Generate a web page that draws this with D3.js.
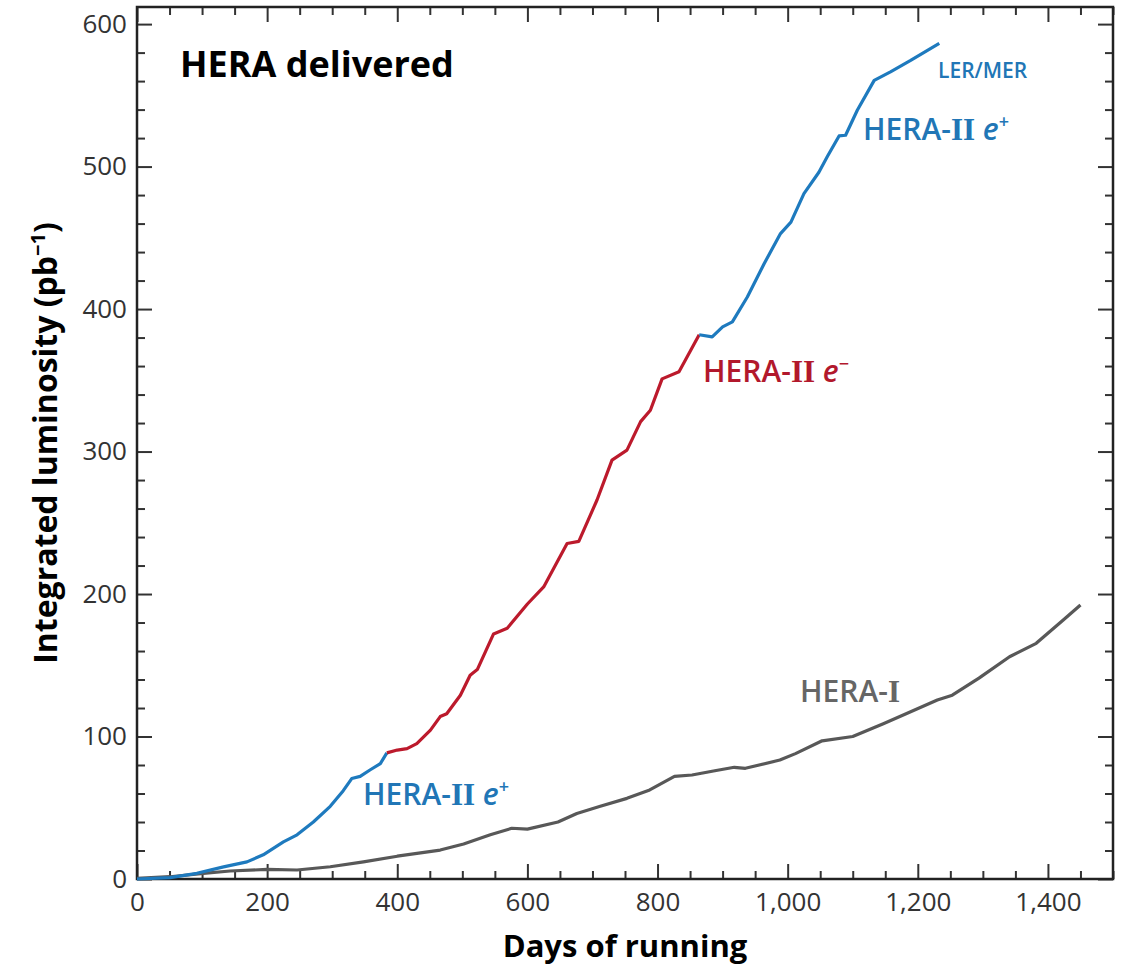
<!DOCTYPE html>
<html>
<head>
<meta charset="utf-8">
<script src="https://cdn.jsdelivr.net/npm/d3@7"></script>
<style>
  body { margin: 0; background: #fff; }
  text { font-family: 'Open Sans', 'Noto Sans', sans-serif; }
</style>
</head>
<body>
<div id="canvas"></div>
<script>
/*
 * Data (days, integrated luminosity in pb^-1)
 *
 */
const heraIDays = [0, 51, 102, 143, 200, 246, 297, 348, 400, 466, 502, 543, 576, 600, 647, 676, 712, 753, 788, 826, 853, 888, 918, 935, 988, 1012, 1053, 1100, 1147, 1182, 1230, 1253, 1294, 1341, 1382, 1424, 1450];
const heraILumi = [0.5, 1.6, 4, 5.6, 6.7, 6.3, 8.6, 12, 16, 20.3, 24.6, 31, 35.6, 35, 40, 46, 51, 56.6, 62.5, 72, 73, 76, 78.4, 77.7, 83.5, 88, 97, 100, 109, 116, 125.6, 129, 141, 156, 165.4, 182, 192.3];

const posFirstDays = [0, 51, 92, 133, 169, 194, 225, 246, 271, 297, 317, 330, 343, 358, 374, 384];
const posFirstLumi = [0, 1, 4, 8.5, 12, 17, 26, 31, 40, 51, 62, 70.5, 72, 76.5, 81, 88.5];

const elecDays = [384, 400, 415, 430, 451, 466, 476, 497, 512, 523, 548, 569, 600, 625, 661, 679, 707, 730, 753, 774, 789, 807, 833, 864];
const elecLumi = [88.5, 90.5, 91.5, 95, 104.5, 114, 116, 129, 143, 147, 172, 176, 193, 205, 235.5, 237, 266, 294, 301, 321, 329, 351, 356, 382];

const posSecondDays = [864, 884, 900, 915, 938, 964, 989, 1005, 1025, 1048, 1061, 1079, 1089, 1107, 1133, 1158, 1189, 1233];
const posSecondLumi = [382, 380.5, 387.5, 391, 408.5, 432, 453, 461, 481, 496, 507, 521.5, 522, 539.5, 560.5, 566.5, 574.5, 586.5];

const xTicks = [0, 200, 400, 600, 800, 1000, 1200, 1400];
const yTicks = [0, 100, 200, 300, 400, 500, 600];

const blue = 'rgb(30, 122, 190)',
  red = 'rgb(188, 26, 44)',
  grey = 'rgb(88, 88, 88)';

/*
 * Sizes
 *
 */
const svgWidth = 1122,
  svgHeight = 965;
const margin = { top: 7, left: 137, right: 9, bottom: 86 };
const width = svgWidth - margin.left - margin.right,
  height = svgHeight - margin.top - margin.bottom;

const svg = d3.select('#canvas').append('svg')
  .attr('width', svgWidth)
  .attr('height', svgHeight);

const g = svg.append('g')
  .attr('transform', `translate(${margin.left}, ${margin.top})`);

const xScale = d3.scaleLinear().domain([0, 1500]).range([0, width]);
const yScale = d3.scaleLinear().domain([0, 612]).range([height, 0]);

/*
 * Axes: ticks point inward on all four sides
 *
 */
const minorX = d3.range(0, 1501, 50).filter((d) => d % 200 !== 0);
const minorY = d3.range(0, 612, 20).filter((d) => d % 100 !== 0);

function styleAxis(sel) {
  sel.select('.domain').remove();
  sel.selectAll('line').attr('stroke', '#333').attr('stroke-width', 2);
  sel.selectAll('text')
    .attr('fill', '#333')
    .style('font-size', '26px');
}

g.append('g')
  .attr('transform', `translate(0,${height})`)
  .call(d3.axisBottom(xScale).tickValues(xTicks).tickSize(-15).tickPadding(14).tickFormat(d3.format(',')))
  .call(styleAxis);
g.append('g')
  .attr('transform', `translate(0,${height})`)
  .call(d3.axisBottom(xScale).tickValues(minorX).tickSize(-8).tickFormat(''))
  .call(styleAxis);
g.append('g')
  .call(d3.axisTop(xScale).tickValues(xTicks).tickSize(-15).tickFormat(''))
  .call(styleAxis);
g.append('g')
  .call(d3.axisTop(xScale).tickValues(minorX).tickSize(-8).tickFormat(''))
  .call(styleAxis);

g.append('g')
  .call(d3.axisLeft(yScale).tickValues(yTicks).tickSize(-15).tickPadding(10))
  .call(styleAxis);
g.append('g')
  .call(d3.axisLeft(yScale).tickValues(minorY).tickSize(-8).tickFormat(''))
  .call(styleAxis);
g.append('g')
  .attr('transform', `translate(${width},0)`)
  .call(d3.axisRight(yScale).tickValues(yTicks).tickSize(-15).tickFormat(''))
  .call(styleAxis);
g.append('g')
  .attr('transform', `translate(${width},0)`)
  .call(d3.axisRight(yScale).tickValues(minorY).tickSize(-8).tickFormat(''))
  .call(styleAxis);

// frame
g.append('rect')
  .attr('width', width)
  .attr('height', height)
  .attr('fill', 'none')
  .attr('stroke', '#222')
  .attr('stroke-width', 2.5);

/*
 * Axis titles
 *
 */
g.append('text')
  .attr('x', width / 2)
  .attr('y', height + 78)
  .attr('text-anchor', 'middle')
  .style('font-size', '31px')
  .style('font-weight', 'bold')
  .text('Days of running');

const yLabel = g.append('text')
  .attr('transform', `translate(${57 - margin.left},${height / 2}) rotate(-90)`)
  .attr('text-anchor', 'middle')
  .style('font-size', '32px')
  .style('font-weight', 'bold');
yLabel.append('tspan').text('Integrated luminosity (pb');
yLabel.append('tspan').text('\u22121').attr('dy', -12).style('font-size', '20px');
yLabel.append('tspan').text(')').attr('dy', 12);

g.append('text')
  .attr('x', 180 - margin.left)
  .attr('y', 77 - margin.top)
  .style('font-size', '36px')
  .style('font-weight', 'bold')
  .text('HERA delivered');

/*
 * Lines
 *
 */
const line = d3.line()
  .x((d) => xScale(d[0]))
  .y((d) => yScale(d[1]));

const series = [
  { days: heraIDays, lumi: heraILumi, color: grey },
  { days: posFirstDays, lumi: posFirstLumi, color: blue },
  { days: elecDays, lumi: elecLumi, color: red },
  { days: posSecondDays, lumi: posSecondLumi, color: blue }
];

g.selectAll('path.run')
  .data(series)
  .enter()
  .append('path')
  .attr('class', 'run')
  .attr('d', (s) => line(s.days.map((d, i) => [d, s.lumi[i]])))
  .attr('fill', 'none')
  .attr('stroke', (s) => s.color)
  .attr('stroke-width', 3.2)
  .attr('stroke-linejoin', 'round');

/*
 * Run labels
 *
 */
function runLabel(x, y, color, numeral, charge) {
  const t = g.append('text')
    .attr('x', x - margin.left)
    .attr('y', y - margin.top)
    .attr('fill', color)
    .style('font-size', '30px')
    .style('font-weight', 600);
  t.append('tspan').text('HERA-');
  t.append('tspan').text(numeral)
    .style('font-family', "'Liberation Serif', 'DejaVu Serif', serif")
    .style('font-weight', 'bold')
    .style('font-size', '31px');
  if (charge) {
    t.append('tspan').text(' e')
      .style('font-style', 'italic');
    t.append('tspan').text(charge)
      .attr('dy', -12)
      .style('font-size', '18px');
  }
  return t;
}

runLabel(363, 805, 'rgb(33, 118, 182)', 'II', '+');
runLabel(703, 382, 'rgb(178, 24, 44)', 'II', '\u2212');
runLabel(863, 140, 'rgb(33, 118, 182)', 'II', '+');
runLabel(800, 702, '#666', 'I', null);

g.append('text')
  .attr('x', 938 - margin.left)
  .attr('y', 78 - margin.top)
  .attr('fill', 'rgb(33, 118, 182)')
  .style('font-size', '21px')
  .style('font-weight', 600)
  .text('LER/MER');
</script>
</body>
</html>
